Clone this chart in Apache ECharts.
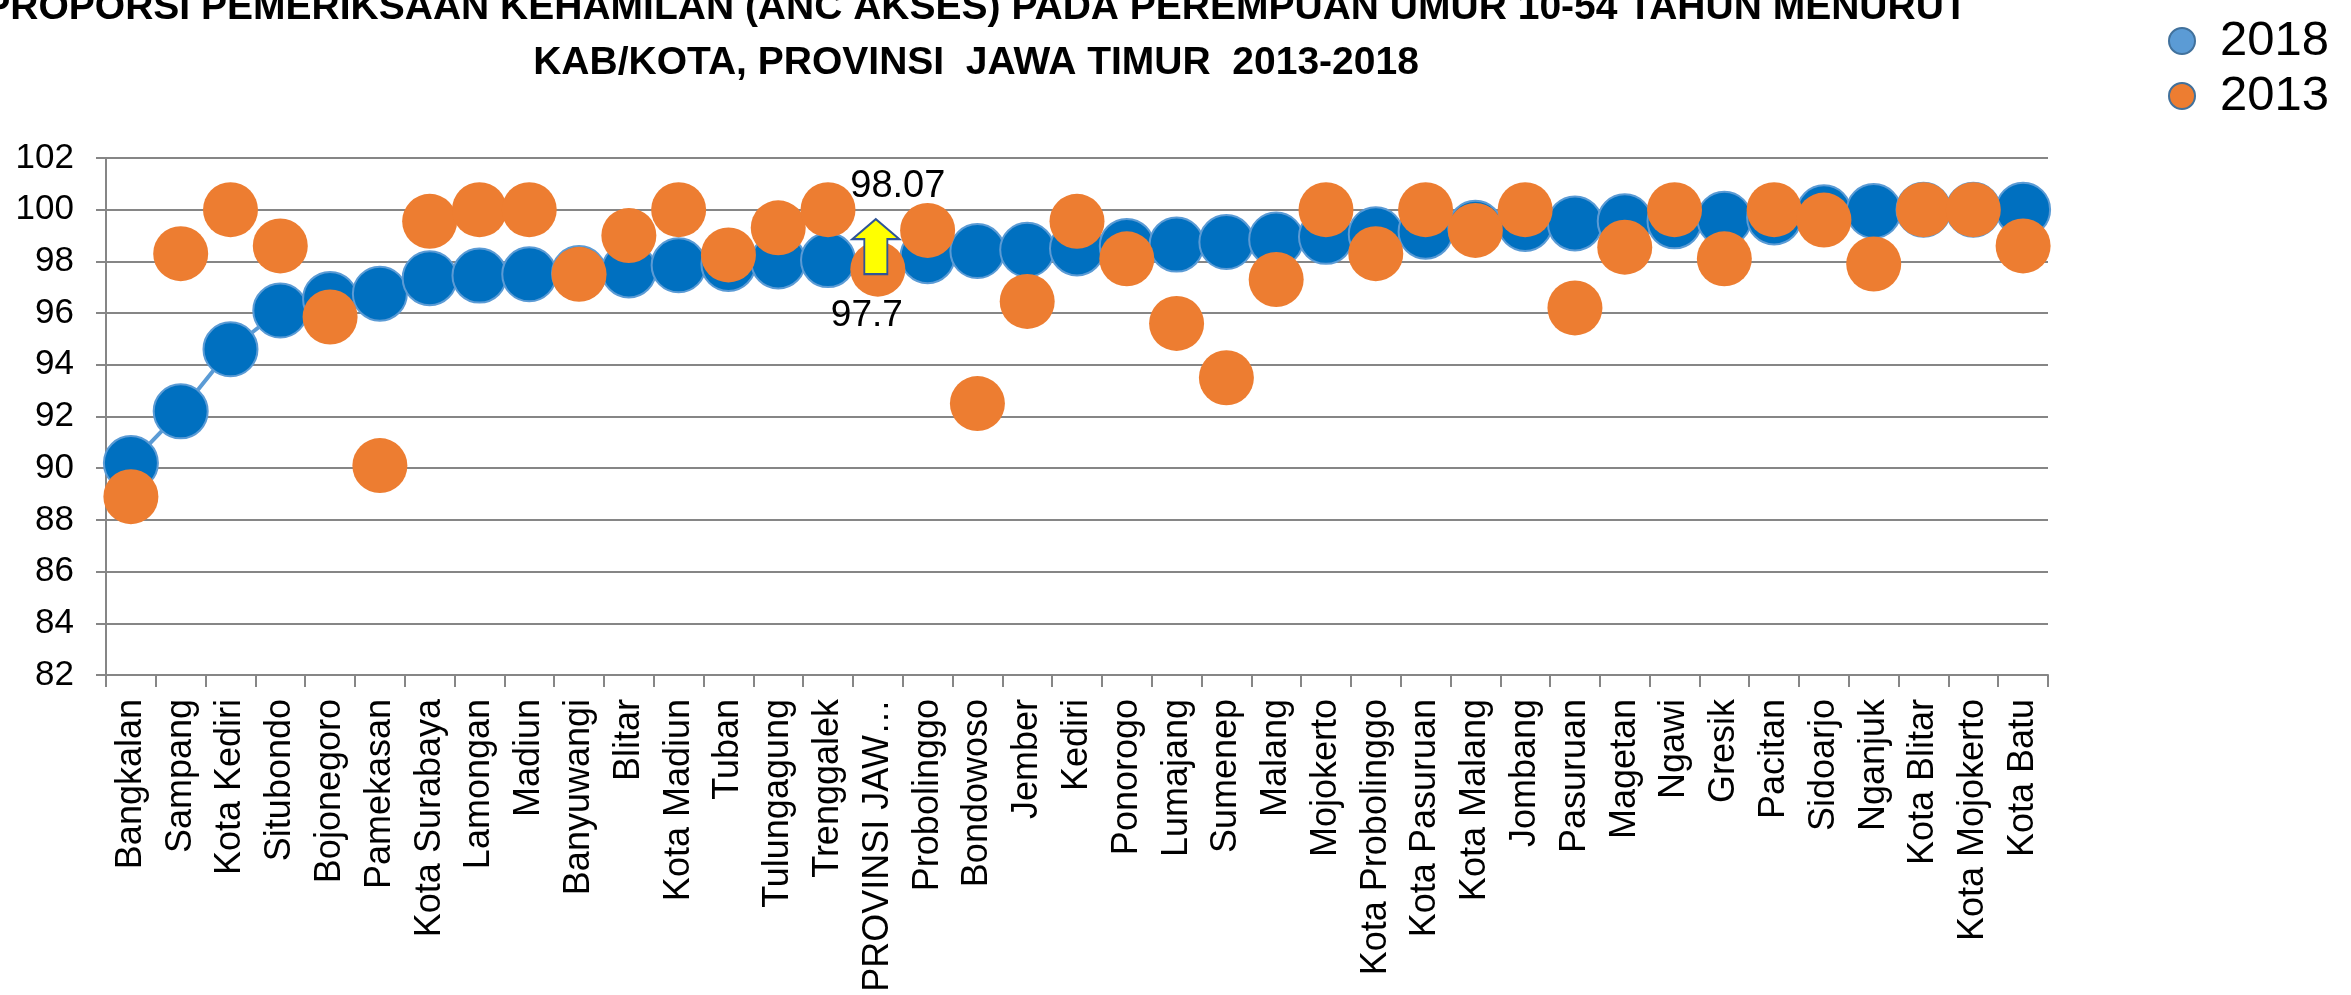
<!DOCTYPE html>
<html>
<head>
<meta charset="utf-8">
<title>Proporsi ANC Akses Jawa Timur</title>
<script src="https://cdn.jsdelivr.net/npm/echarts@6/dist/echarts.min.js"></script>
<style>
  html, body { margin: 0; padding: 0; background: #fff; }
  #chart { width: 2351px; height: 995px; }
</style>
</head>
<body>
<div id="chart"></div>
<script>
// data kab/kota (urut menurut nilai 2018)
const categories = ['Bangkalan', 'Sampang', 'Kota Kediri', 'Situbondo', 'Bojonegoro', 'Pamekasan',
  'Kota Surabaya', 'Lamongan', 'Madiun', 'Banyuwangi', 'Blitar', 'Kota Madiun', 'Tuban',
  'Tulungagung', 'Trenggalek', 'PROVINSI JAWA TIMUR', 'Probolinggo', 'Bondowoso', 'Jember',
  'Kediri', 'Ponorogo', 'Lumajang', 'Sumenep', 'Malang', 'Mojokerto', 'Kota Probolinggo',
  'Kota Pasuruan', 'Kota Malang', 'Jombang', 'Pasuruan', 'Magetan', 'Ngawi', 'Gresik',
  'Pacitan', 'Sidoarjo', 'Nganjuk', 'Kota Blitar', 'Kota Mojokerto', 'Kota Batu'];

const values2018 = [90.2, 92.2, 94.6, 96.1, 96.55, 96.75, 97.35, 97.45, 97.5, 97.55,
  97.65, 97.85, 97.9, 98.0, 98.05, 98.07, 98.2, 98.4, 98.45, 98.5,
  98.6, 98.65, 98.75, 98.85, 98.95, 99.05, 99.15, 99.3, 99.45, 99.47,
  99.55, 99.55, 99.65, 99.7, 99.9, 99.95, 100, 100, 100];

const values2013 = [88.9, 98.3, 100, 98.6, 95.85, 90.1, 99.55, 100, 100, 97.5,
  99.0, 100, 98.25, 99.3, 100, 97.7, 99.2, 92.5, 96.45, 99.55,
  98.1, 95.6, 93.5, 97.3, 100, 98.3, 100, 99.2, 100, 96.2,
  98.55, 100, 98.1, 100, 99.6, 97.9, 100, 100, 98.6];

// sumbu Y
const yMin = 82;
const yMax = 102;
const yStep = 2;

const provIdx = categories.indexOf('PROVINSI JAWA TIMUR');
const FONT = '"Liberation Sans", Arial, sans-serif';
const GRAY = '#868686';

// panah kuning (naik)
const arrowPath = 'path://M23.5,0 L47,20 L35,20 L35,55 L12,55 L12,20 L0,20 Z';

const getOption = () => ({
  animation: false,
  backgroundColor: '#fff',
  title: {
    text: 'PROPORSI PEMERIKSAAN KEHAMILAN (ANC AKSES) PADA PEREMPUAN UMUR 10-54 TAHUN MENURUT\nKAB/KOTA, PROVINSI  JAWA TIMUR  2013-2018',
    left: 976,
    top: -19,
    padding: 0,
    textAlign: 'center',
    textStyle: {
      fontFamily: FONT,
      fontWeight: 'bold',
      fontSize: 39,
      lineHeight: 55,
      color: '#000'
    }
  },
  legend: {
    orient: 'vertical',
    left: 2163,
    top: 8,
    itemWidth: 26,
    itemHeight: 26,
    itemGap: -1,
    icon: 'circle',
    textStyle: {
      fontFamily: FONT,
      fontSize: 49,
      lineHeight: 40,
      padding: [0, 0, 16, 20],
      color: '#000'
    },
    data: [
      { name: '2018', itemStyle: { color: '#5B9BD5', borderColor: '#41719C', borderWidth: 2 } },
      { name: '2013', itemStyle: { color: '#ED7D31', borderColor: '#41719C', borderWidth: 2 } }
    ]
  },
  grid: {
    left: 106,
    right: 303,
    top: 158,
    bottom: 320,
    outerBoundsMode: 'none',
    containLabel: false
  },
  xAxis: {
    type: 'category',
    data: categories,
    boundaryGap: true,
    axisLine: { show: true, lineStyle: { color: GRAY, width: 2 } },
    axisTick: { show: true, length: 12, lineStyle: { color: GRAY, width: 2 } },
    axisLabel: {
      interval: 0,
      rotate: 90,
      margin: 24,
      fontFamily: FONT,
      fontSize: 36,
      color: '#000',
      width: 300,
      overflow: 'truncate',
      ellipsis: '…'
    },
    splitLine: { show: false }
  },
  yAxis: {
    type: 'value',
    min: yMin,
    max: yMax,
    interval: yStep,
    axisLine: { show: true, lineStyle: { color: GRAY, width: 2 } },
    axisTick: { show: true, length: 10, lineStyle: { color: GRAY, width: 2 } },
    axisLabel: {
      margin: 32,
      fontFamily: FONT,
      fontSize: 35,
      color: '#000'
    },
    splitLine: { show: true, lineStyle: { color: GRAY, width: 2 } }
  },
  series: [
    {
      name: '2018',
      type: 'line',
      z: 2,
      symbol: 'circle',
      symbolSize: 54,
      itemStyle: { color: '#0070C0', borderColor: '#5B9BD5', borderWidth: 2 },
      lineStyle: { color: '#5B9BD5', width: 4 },
      data: values2018.map((v, i) => i === provIdx ? {
        value: v,
        symbolSize: 0,
        label: {
          show: true,
          position: 'inside',
          offset: [20, -73],
          fontFamily: FONT,
          fontSize: 38,
          color: '#000'
        }
      } : v)
    },
    {
      name: '2013',
      type: 'scatter',
      z: 4,
      symbol: 'circle',
      symbolSize: 55,
      itemStyle: { color: '#ED7D31', opacity: 1 },
      data: values2013.map((v, i) => i === provIdx ? {
        value: v,
        label: {
          show: true,
          position: 'inside',
          offset: [-11, 47],
          fontFamily: FONT,
          fontSize: 37,
          color: '#000'
        }
      } : v),
      // panah dari 2013 ke 2018 untuk provinsi
      markPoint: {
        silent: true,
        z: 6,
        data: [{
          coord: [categories[provIdx], values2018[provIdx]],
          symbol: arrowPath,
          symbolSize: [47, 55],
          symbolOffset: [-2, -13],
          itemStyle: { color: '#FFFF00', borderColor: '#2F5597', borderWidth: 2 },
          label: { show: false }
        }]
      }
    }
  ]
});

const chart = echarts.init(document.getElementById('chart'));
chart.setOption(getOption());
</script>
</body>
</html>
